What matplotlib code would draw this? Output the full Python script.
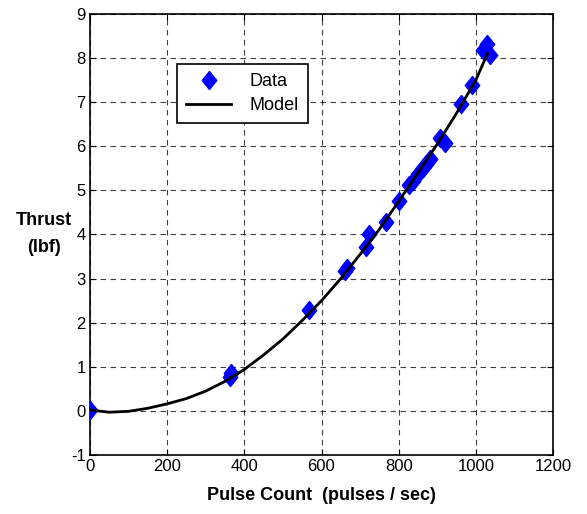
import matplotlib
matplotlib.use("Agg")
import matplotlib.pyplot as plt

plt.rcParams['font.family'] = ['Liberation Sans', 'DejaVu Sans']
plt.rcParams['axes.unicode_minus'] = False

# Measured data points (pulses/sec, lbf)
data_x = [0, 362, 366, 567, 660, 665, 716, 724, 768, 802, 826, 836, 850,
          862, 870, 882, 907, 920, 962, 989, 1018, 1028, 1036]
data_y = [0.02, 0.78, 0.86, 2.28, 3.18, 3.25, 3.72, 4.00, 4.29, 4.75, 5.12,
          5.22, 5.38, 5.50, 5.60, 5.72, 6.18, 6.08, 6.96, 7.39, 8.18, 8.32, 8.08]

# Model curve
model_x = [0, 50, 100, 150, 200, 250, 300, 350, 400, 450, 500, 550, 600,
           650, 700, 750, 800, 850, 900, 950, 1000, 1030]
model_y = [0.02, -0.03, -0.01, 0.06, 0.16, 0.28, 0.45, 0.67, 0.94, 1.27,
           1.63, 2.05, 2.50, 3.00, 3.55, 4.12, 4.75, 5.40, 6.05, 6.75, 7.50, 8.10]

x_ticks = [0, 200, 400, 600, 800, 1000, 1200]
y_ticks = [-1, 0, 1, 2, 3, 4, 5, 6, 7, 8, 9]

fig = plt.figure(figsize=(5.87, 5.14), dpi=100)
ax = fig.add_axes([90/587, 1-455/514, (553-90)/587, (455-14)/514])

diamond = [(0, 1), (0.8, 0), (0, -1), (-0.8, 0), (0, 1)]
ax.plot(data_x, data_y, linestyle='none', marker=diamond, markersize=13,
        color='#0000ff', markeredgecolor='#0000ff', label='Data', zorder=3)
ax.plot(model_x, model_y, color='black', linewidth=2, label='Model', zorder=4)

ax.set_xlim(0, 1200)
ax.set_ylim(-1, 9)
ax.set_xticks(x_ticks)
ax.set_yticks(y_ticks)
ax.tick_params(labelsize=12, direction='in', length=4, width=0.8, pad=3)
ax.tick_params(axis='y', right=True)
ax.tick_params(axis='x', top=True)
ax.grid(True, linestyle=(0, (5, 4)), color='black', linewidth=0.8, alpha=0.75)
for s in ax.spines.values():
    s.set_linewidth(1.2)

ax.set_xlabel('Pulse Count  (pulses / sec)', fontsize=13, fontweight='bold',
              labelpad=9)
fig.text(44/587, 1-234/514, 'Thrust\n(lbf)', fontsize=13, fontweight='bold',
         ha='center', va='center', linespacing=1.7)

leg = ax.legend(loc='upper left', bbox_to_anchor=((177-90)/463, 1-(64-14)/441),
                fontsize=13, frameon=True, fancybox=False, borderpad=0.5,
                handlelength=2.5, labelspacing=0.4, handletextpad=1.0,
                borderaxespad=0)
leg.get_frame().set_edgecolor('black')
leg.get_frame().set_linewidth(1.2)
leg.get_frame().set_alpha(1)

fig.savefig('out.png', dpi=100)
